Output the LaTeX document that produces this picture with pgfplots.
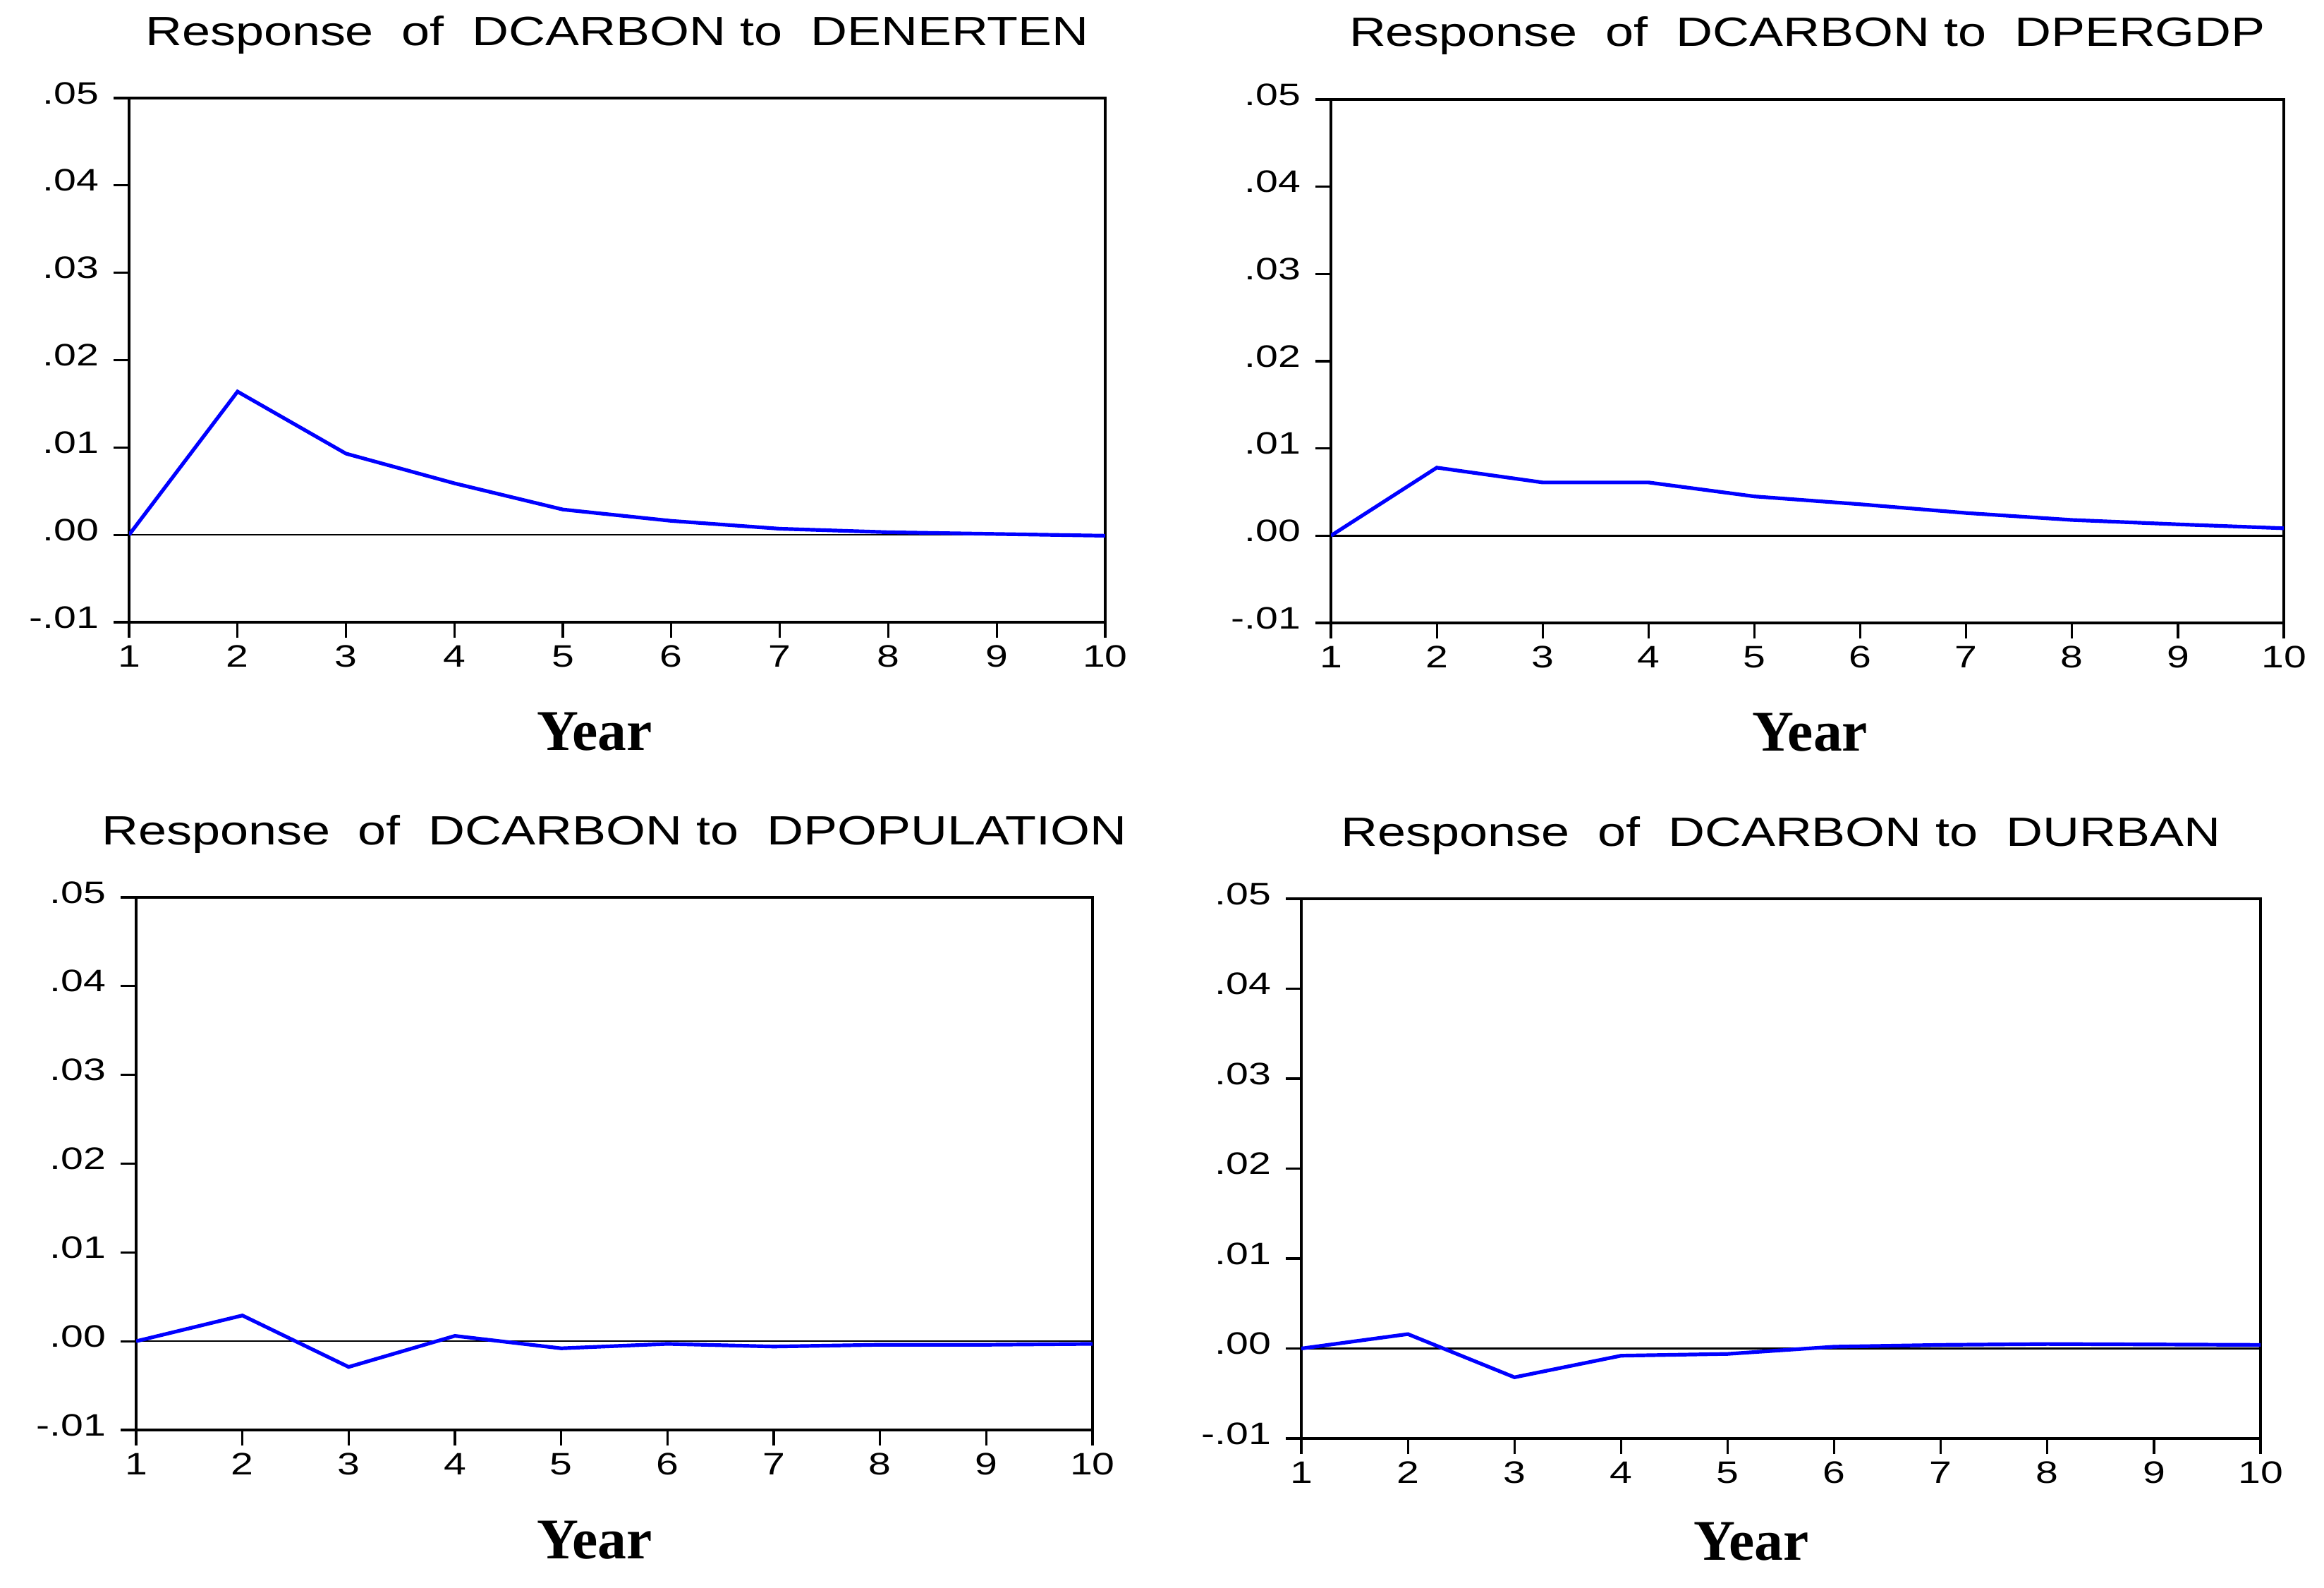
\documentclass[border=0pt]{standalone}
\usepackage{graphicx}
\usepackage{fontspec}
\setmainfont{Liberation Sans}
\newfontfamily\yearfont{Liberation Serif}
\usepackage{pgfplots}
\pgfplotsset{compat=1.18}
\newcommand\sx[1]{\scalebox{1.3}[1]{#1}}
\newcommand\st[1]{\scalebox{1.24}[1]{#1}}
\pgfplotsset{
  irf/.style={
    scale only axis,
    anchor=south west,
    xmin=1, xmax=10, ymin=-0.01, ymax=0.05,
    scaled y ticks=false, scaled x ticks=false,
    axis line style={line width=0.9pt},
    xtick={1,...,10},
    xticklabels={\sx{1},\sx{2},\sx{3},\sx{4},\sx{5},\sx{6},\sx{7},\sx{8},\sx{9},\sx{10}},
    ytick={-0.01,0,0.01,0.02,0.03,0.04,0.05},
    yticklabels={\sx{-.01},\sx{.00},\sx{.01},\sx{.02},\sx{.03},\sx{.04},\sx{.05}},
    xtick pos=left, ytick pos=left,
    tick align=outside,
    major tick length=5.5pt,
    tick style={line width=0.8pt, black},
    tick label style={font=\fontsize{11}{12}\selectfont, inner sep=0pt},
    yticklabel style={anchor=east, xshift=-5pt, yshift=1.75pt},
    xticklabel style={anchor=north, yshift=-2.5pt},
    title style={font=\fontsize{14.5}{16}\selectfont, at={(0.5,1)}, anchor=base, yshift=12.75pt, inner sep=0pt},
    xlabel style={font=\yearfont\bfseries\fontsize{20.4}{22}\selectfont, at={(axis description cs:0.5,0)}, anchor=base, yshift=-45.5pt, inner sep=0pt},
    xlabel={Year},
  },
  zero/.style={black, line width=0.6pt},
  resp/.style={blue, line width=1.3pt},
}
\begin{document}
\begin{tikzpicture}
\path[use as bounding box] (0,0) rectangle (823.75pt,562.5pt);
% top left
\begin{axis}[irf, at={(45.75pt,342pt)}, width=346pt, height=185.75pt,
  title={\st{Response\ \ of\ \ DCARBON to\ \ DENERTEN}}, xlabel style={xshift=-8pt}]
\addplot[zero] coordinates {(1,0) (10,0)};
\addplot[resp] coordinates {(1,0) (2,0.0164) (3,0.0093) (4,0.0059) (5,0.0029) (6,0.0016) (7,0.0007) (8,0.0003) (9,0.0001) (10,-0.0001)};
\end{axis}
% top right
\begin{axis}[irf, at={(471.75pt,341.75pt)}, width=337.75pt, height=185.5pt,
  title={\st{Response\ \ of\ \ DCARBON to\ \ DPERGDP}}, xlabel style={xshift=1pt}]
\addplot[zero] coordinates {(1,0) (10,0)};
\addplot[resp] coordinates {(1,0) (2,0.0078) (3,0.0061) (4,0.0061) (5,0.0045) (6,0.0036) (7,0.0026) (8,0.0018) (9,0.0013) (10,0.00085)};
\end{axis}
% bottom left
\begin{axis}[irf, at={(48.25pt,55.75pt)}, width=339pt, height=188.75pt,
  title={\st{Response\ \ of\ \ DCARBON to\ \ DPOPULATION}}, xlabel style={xshift=-7pt}]
\addplot[zero] coordinates {(1,0) (10,0)};
\addplot[resp] coordinates {(1,0) (2,0.0029) (3,-0.0029) (4,0.0006) (5,-0.0008) (6,-0.0003) (7,-0.0006) (8,-0.0004) (9,-0.0004) (10,-0.0003)};
\end{axis}
% bottom right
\begin{axis}[irf, at={(461.25pt,52.75pt)}, width=340pt, height=191.25pt,
  title={\st{Response\ \ of\ \ DCARBON to\ \ DURBAN}}, xlabel style={xshift=-10.5pt, yshift=2.5pt}]
\addplot[zero] coordinates {(1,0) (10,0)};
\addplot[resp] coordinates {(1,0) (2,0.0016) (3,-0.0032) (4,-0.0008) (5,-0.0006) (6,0.0002) (7,0.0004) (8,0.0005) (9,0.00045) (10,0.0004)};
\end{axis}
\end{tikzpicture}
\end{document}
